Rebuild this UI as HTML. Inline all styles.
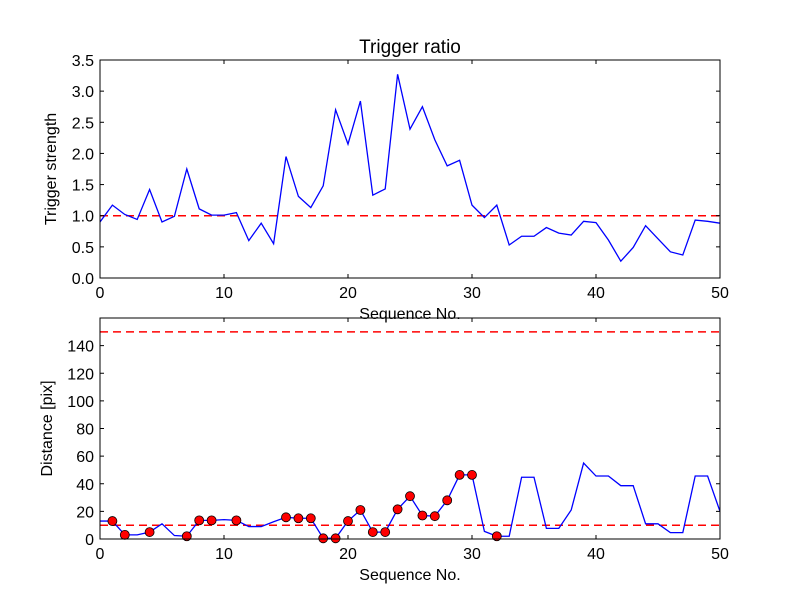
<!DOCTYPE html>
<html><head><meta charset="utf-8"><style>
body{margin:0;background:#fff;}
svg{display:block;font-family:"Liberation Sans","DejaVu Sans",sans-serif;}
</style></head><body>
<svg id="chart" width="800" height="600"></svg>
<script>
const xTicks=[0,10,20,30,40,50];
const topYTicks=["0.0","0.5","1.0","1.5","2.0","2.5","3.0","3.5"];
const botYTicks=[0,20,40,60,80,100,120,140];
const triggerStrength=[0.90,1.17,1.02,0.94,1.42,0.90,0.99,1.75,1.11,1.01,1.01,1.05,0.60,0.88,0.55,1.95,1.31,1.13,1.48,2.70,2.15,2.84,1.33,1.43,3.27,2.39,2.75,2.22,1.80,1.89,1.17,0.97,1.17,0.53,0.67,0.67,0.81,0.72,0.69,0.91,0.89,0.61,0.27,0.49,0.84,0.63,0.42,0.37,0.93,0.91,0.88];
const distance=[13,13,3,3,5,11,2.5,2,13.5,13.5,14,13.5,9,9,12.5,15.7,15,15,0.5,0.5,13,21,5,5,21.5,31,17,16.5,28,46.4,46.4,5.5,2,2,44.7,44.7,7.7,7.7,21,55,45.6,45.6,38.6,38.6,11,11,4.6,4.6,45.6,45.6,20];
const markerIdx=[1,2,4,7,8,9,11,15,16,17,18,19,20,21,22,23,24,25,26,27,28,29,30,32];
const triggerThreshold=1.0;
const distThresholds=[10,150];

const NS="http://www.w3.org/2000/svg";
const svg=document.getElementById('chart');
function mk(tag,attrs,parent){const e=document.createElementNS(NS,tag);for(const k in attrs)e.setAttribute(k,attrs[k]);(parent||svg).appendChild(e);return e;}
const X0=100,X1=720;
const sx=v=>X0+(v-0)/(50)*(X1-X0);
function axes(name,top,bot,ymax,yticks,ylabel,fy,xlabel){
  const sy=v=>bot-(v/ymax)*(bot-top);
  const g=mk('g',{});
  
  
  return {g,sy,top,bot,ymax,yticks,ylabel,fy,xlabel};
}
function frame(a){
  const {g,sy,top,bot}=a;
  const r=mk('rect',{x:X0,y:top,width:X1-X0,height:bot-top,fill:'none',stroke:'#000','stroke-width':1},g);
  
  xTicks.forEach(t=>{
    const x=sx(t);
    mk('line',{x1:x,x2:x,y1:bot,y2:bot-4,stroke:'#000'},g);
    mk('line',{x1:x,x2:x,y1:top,y2:top+4,stroke:'#000'},g);
    const tx=mk('text',{x:x,y:bot+20,'font-size':16,'text-anchor':'middle'},g);
    tx.textContent=t;
    
  });
  a.yticks.forEach(t=>{
    const y=sy(parseFloat(t));
    mk('line',{x1:X0,x2:X0+4,y1:y,y2:y,stroke:'#000'},g);
    mk('line',{x1:X1,x2:X1-4,y1:y,y2:y,stroke:'#000'},g);
    const tx=mk('text',{x:X0-6,y:y+6,'font-size':16,'text-anchor':'end'},g);
    tx.textContent=t;
    
  });
  const yl=mk('text',{x:0,y:0,'font-size':16,'text-anchor':'middle',transform:`translate(${a.fy},${(top+bot)/2}) rotate(-90)`},g);
  yl.textContent=a.ylabel;
  const xl=mk('text',{x:(X0+X1)/2,y:bot+41,'font-size':16,'text-anchor':'middle'},g);
  xl.textContent=a.xlabel;
}
function hline(a,v,name){
  const l=mk('line',{x1:X0,x2:X1,y1:a.sy(v),y2:a.sy(v),stroke:'#f00','stroke-width':1.5,'stroke-dasharray':'8,5'},a.g);
  
}
function series(a,vals,name){
  const p=mk('polyline',{points:vals.map((v,i)=>sx(i)+','+a.sy(v)).join(' '),fill:'none',stroke:'#00f','stroke-width':1.3},a.g);
  
}
// top
const A=axes('trigger-plot',60,278,3.5,topYTicks,'Trigger strength',56,'Sequence No.');
hline(A,triggerThreshold,'threshold-line');
series(A,triggerStrength,'trigger-strength-line');
frame(A);
const title=mk('text',{x:410,y:53,'font-size':19,'text-anchor':'middle'});
title.textContent='Trigger ratio';
// bottom
const B=axes('distance-plot',318,539,160,botYTicks.map(String),'Distance [pix]',52,'Sequence No.');
const cp=mk('clipPath',{id:'cb'});mk('rect',{x:X0,y:318,width:X1-X0,height:221},cp);
const inner=mk('g',{'clip-path':'url(#cb)'},B.g);

const Bi=Object.assign({},B,{g:inner});
distThresholds.forEach(v=>hline(Bi,v,'distance-threshold-line'));
series(Bi,distance,'distance-line');
markerIdx.forEach(i=>{
  const c=mk('circle',{cx:sx(i),cy:B.sy(distance[i]),r:4.5,fill:'#f00',stroke:'#000','stroke-width':0.8},B.g);
  
});
frame(B);
</script>
</body></html>
